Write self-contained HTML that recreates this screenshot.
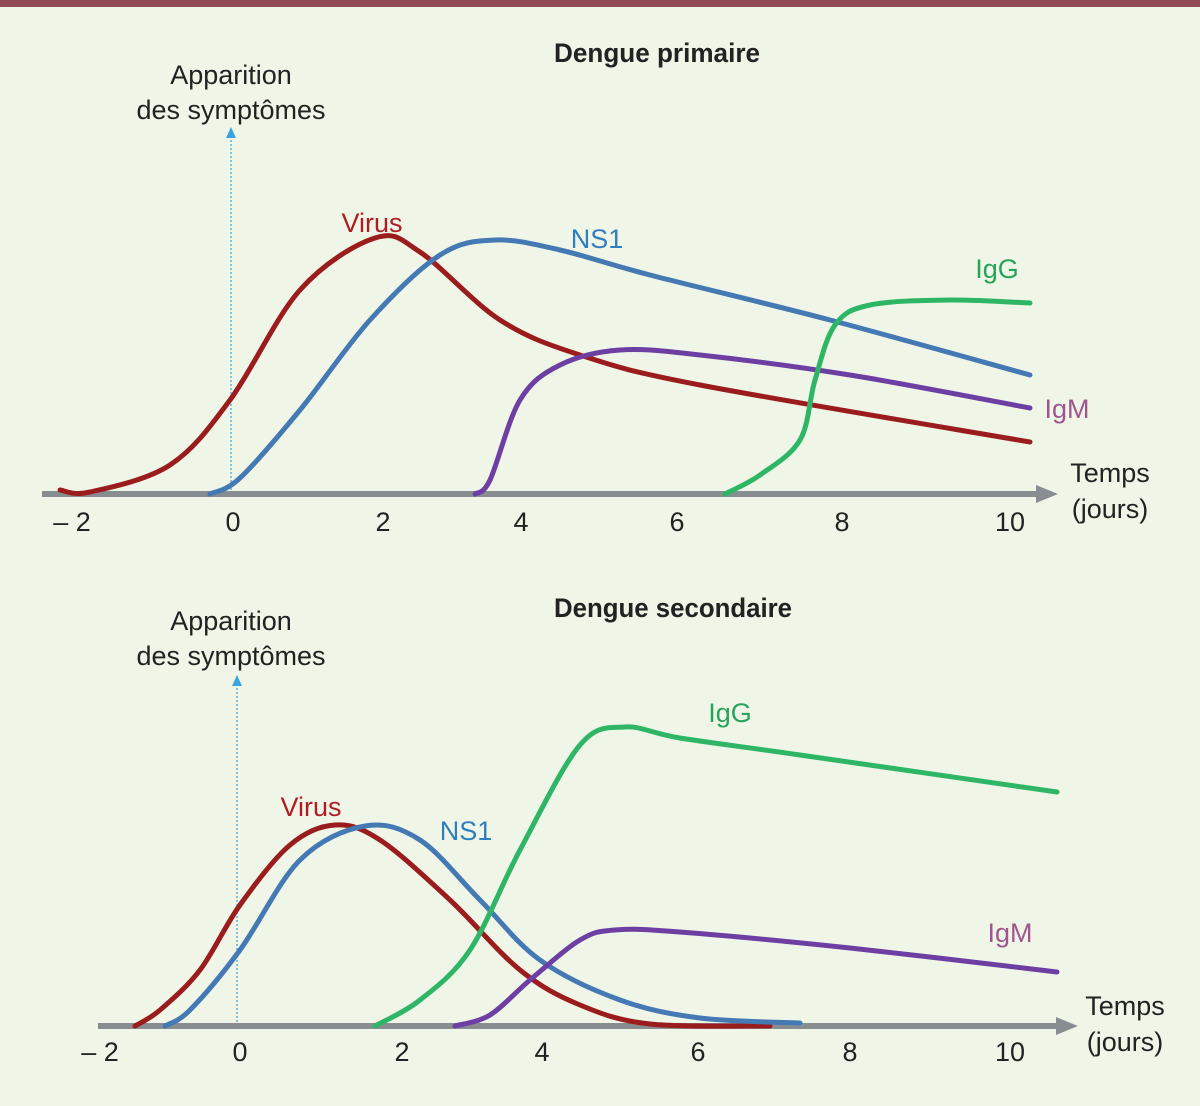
<!DOCTYPE html>
<html><head><meta charset="utf-8"><style>
html,body{margin:0;padding:0;background:#eff6e8;}
svg{display:block}
text{font-family:"Liberation Sans",sans-serif;}
</style></head><body>
<svg id="s" width="1200" height="1106" viewBox="0 0 1200 1106" xmlns="http://www.w3.org/2000/svg">
<rect width="1200" height="1106" fill="#eff6e8"/>
<rect width="1200" height="7" fill="#8f4a55"/>
<g font-size="27" fill="#222" text-anchor="middle">
<text x="231" y="84">Apparition</text>
<text x="231" y="119">des symptômes</text>
<text x="231" y="630">Apparition</text>
<text x="231" y="665">des symptômes</text>
</g>
<g font-size="27" fill="#222" font-weight="bold">
<text x="554" y="62" textLength="206" lengthAdjust="spacingAndGlyphs">Dengue primaire</text>
<text x="554" y="617" textLength="238" lengthAdjust="spacingAndGlyphs">Dengue secondaire</text>
</g>
<line x1="231" y1="136" x2="231" y2="494" stroke="#5ab0e0" stroke-width="1.5" stroke-dasharray="2,2"/>
<polygon points="226,138 236,138 231,127" fill="#3aa4e0"/>
<line x1="237" y1="684" x2="237" y2="1026" stroke="#5ab0e0" stroke-width="1.5" stroke-dasharray="2,2"/>
<polygon points="232,686 242,686 237,675" fill="#3aa4e0"/>
<rect x="42" y="491" width="998" height="6" fill="#888d91"/>
<polygon points="1036,485 1058,494 1036,503" fill="#888d91"/>
<rect x="98" y="1023" width="962" height="6" fill="#888d91"/>
<polygon points="1056,1017 1078,1026 1056,1035" fill="#888d91"/>
<g id="curves" fill="none" stroke-width="5" stroke-linecap="round"></g>
<g font-size="27" fill="#222" text-anchor="middle">
<text x="72" y="531">– 2</text><text x="233" y="531">0</text><text x="383" y="531">2</text><text x="521" y="531">4</text><text x="677" y="531">6</text><text x="842" y="531">8</text><text x="1010" y="531">10</text>
<text x="1110" y="482">Temps</text><text x="1110" y="518">(jours)</text>
<text x="100" y="1061">– 2</text><text x="240" y="1061">0</text><text x="402" y="1061">2</text><text x="542" y="1061">4</text><text x="698" y="1061">6</text><text x="850" y="1061">8</text><text x="1010" y="1061">10</text>
<text x="1125" y="1015">Temps</text><text x="1125" y="1051">(jours)</text>
</g>
<g font-size="27" text-anchor="middle">
<text x="372" y="232" fill="#b01c22">Virus</text>
<text x="597" y="248" fill="#2f7ec0">NS1</text>
<text x="997" y="278" fill="#27a35a">IgG</text>
<text x="1067" y="418" fill="#a05590">IgM</text>
<text x="311" y="816" fill="#b01c22">Virus</text>
<text x="466" y="840" fill="#2f7ec0">NS1</text>
<text x="730" y="722" fill="#27a35a">IgG</text>
<text x="1010" y="942" fill="#a05590">IgM</text>
</g>
</svg>
<script>
function cr(p){var d="M"+p[0][0]+","+p[0][1];for(var i=0;i<p.length-1;i++){var a=p[i-1]||p[i],b=p[i],c=p[i+1],e=p[i+2]||c;d+=" C"+(b[0]+(c[0]-a[0])/6)+","+(b[1]+(c[1]-a[1])/6)+" "+(c[0]-(e[0]-b[0])/6)+","+(c[1]-(e[1]-b[1])/6)+" "+c[0]+","+c[1];}return d;}
var C={red:"#9b1c1c",blue:"#4579b3",pur:"#6e3fa3",grn:"#2fb566"};
var S=[
["red",[[60,490],[90,492],[170,465],[230,400],[300,290],[375,238],[420,252],[500,320],[580,355],[700,385],[1030,442]]],
["blue",[[210,494],[240,478],[300,410],[370,320],[440,255],[495,240],[560,250],[650,275],[830,320],[1030,375]]],
["pur",[[475,494],[490,480],[520,400],[560,365],[620,350],[700,355],[850,375],[1030,408]]],
["grn",[[725,494],[760,475],[800,440],[815,380],[835,325],[870,305],[950,300],[1030,303]]],
["red",[[135,1026],[160,1010],[200,970],[240,905],[290,845],[335,825],[380,840],[450,900],[520,970],[580,1005],[650,1024],[770,1026]]],
["blue",[[165,1026],[190,1010],[240,950],[300,860],[365,826],[420,840],[480,900],[540,960],[620,1000],[700,1018],[800,1023]]],
["grn",[[375,1026],[420,1000],[470,950],[520,850],[580,745],[625,727],[680,738],[800,755],[1057,792]]],
["pur",[[455,1026],[490,1015],[530,980],[580,940],[615,930],[680,932],[850,948],[1057,972]]]];
var g=document.getElementById("curves"),h="";
S.forEach(function(s){h+='<path d="'+cr(s[1])+'" stroke="'+C[s[0]]+'"/>';});
g.innerHTML=h;
</script>
</body></html>
